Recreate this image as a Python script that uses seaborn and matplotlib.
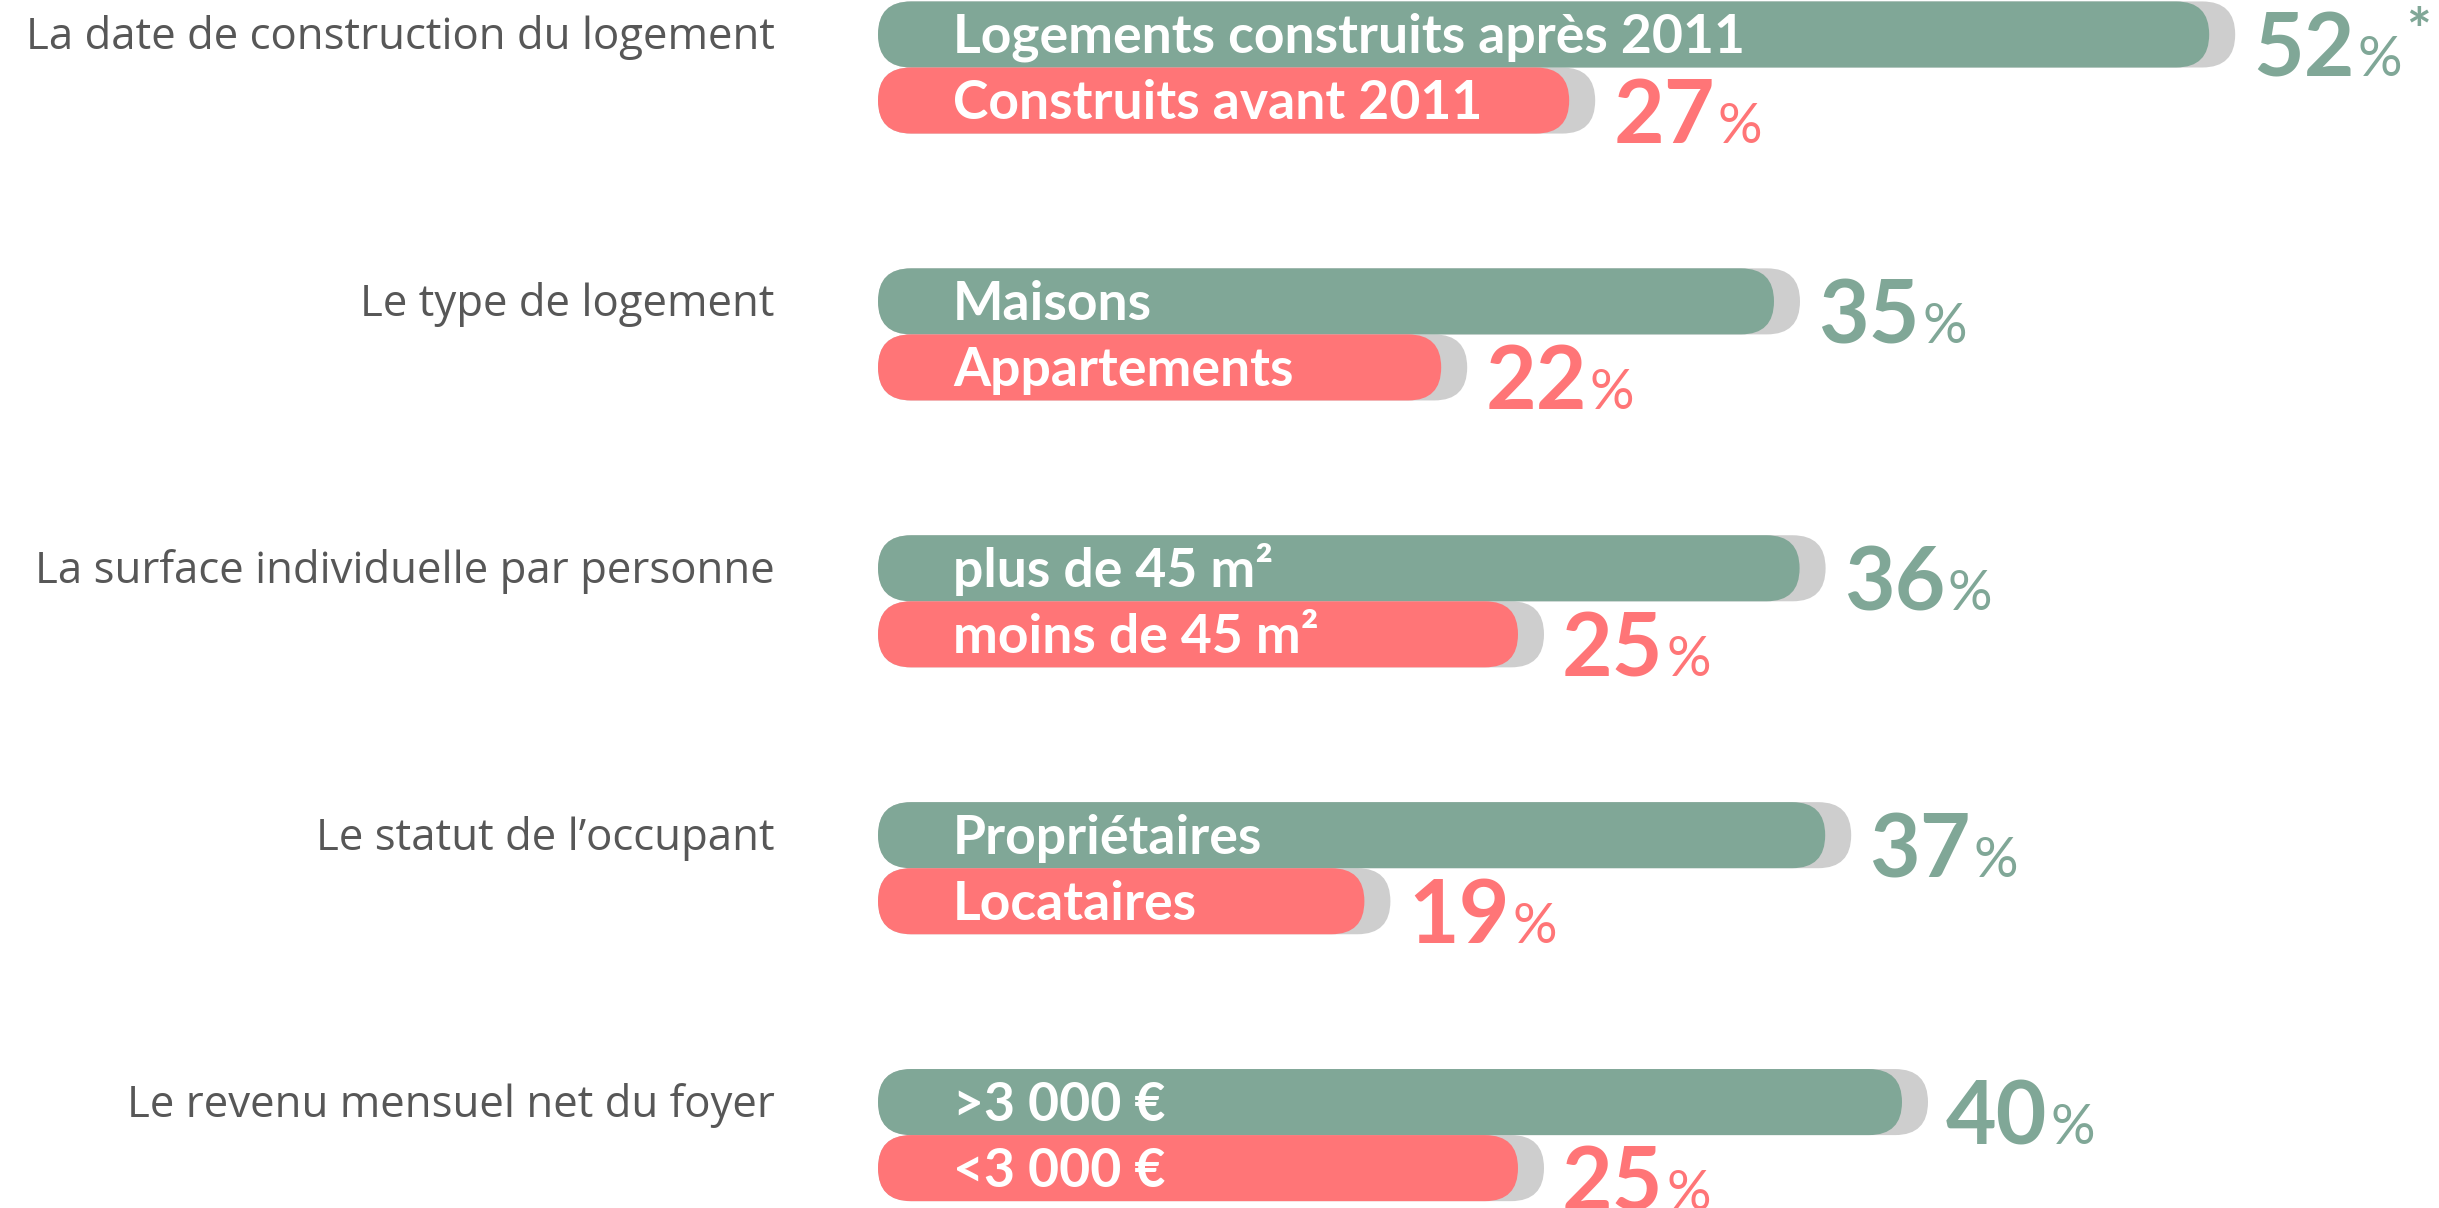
import numpy as np
import pandas as pd
import matplotlib
matplotlib.use("Agg")
import matplotlib.pyplot as plt
from matplotlib.patches import FancyBboxPatch, BoxStyle
import seaborn as sns

# ---------------- data ----------------
questions = [
    "La date de construction du logement",
    "Le type de logement",
    "La surface individuelle par personne",
    "Le statut de l’occupant",
    "Le revenu mensuel net du foyer",
]
top_labels = ["Logements construits après 2011", "Maisons", "plus de 45 m²",
              "Propriétaires", ">3 000 €"]
bottom_labels = ["Construits avant 2011", "Appartements", "moins de 45 m²",
                 "Locataires", "<3 000 €"]
top_values = [52, 35, 36, 37, 40]
bottom_values = [27, 22, 25, 19, 25]
top_notes = ["*", "", "", "", ""]

GREEN = "#80A797"
RED = "#FF7577"
SHADOW = "#CECECE"
GREY_TEXT = "#575757"

# ---------------- figure ----------------
sns.set_style("white")
plt.rcParams['font.family'] = ['Lato', 'DejaVu Sans']

W, H, DPI = 2439, 1208, 100
fig = plt.figure(figsize=(W / DPI, H / DPI), dpi=DPI)
fig.patch.set_facecolor("white")

X0_PX = 878.0        # pixel position of value 0
PX_PER_PCT = 25.6    # pixels per percent
TOP_CENTER = 67.5    # pixel y of first group centre
GROUP_PX = 266.9     # pixels between group centres

ax = fig.add_axes([X0_PX / W, 0, 1 - X0_PX / W, 1])


def dx(px):
    return px / PX_PER_PCT


def dy(px):
    return px / GROUP_PX


rows = []
for q, tl, bl, tv, bv in zip(questions, top_labels, bottom_labels, top_values, bottom_values):
    rows.append({"question": q, "serie": "haut", "label": tl, "value": tv})
    rows.append({"question": q, "serie": "bas", "label": bl, "value": bv})
df = pd.DataFrame(rows)

sns.barplot(data=df, x="value", y="question", hue="serie", orient="h",
            hue_order=["haut", "bas"], palette=[GREEN, RED], saturation=1,
            width=0.495, gap=0, dodge=True, errorbar=None, legend=False, ax=ax)

ax.set_xlim(0, (W - X0_PX) / PX_PER_PCT)
ax.set_ylim((H - TOP_CENTER) / GROUP_PX, -TOP_CENTER / GROUP_PX)
ax.axis("off")

rects = sorted([p for p in ax.patches], key=lambda p: p.get_y() + p.get_height() / 2)

r_x = dx(33)
shadow_w = dx(26)
for k, rect in enumerate(rects):
    i, is_top = k // 2, (k % 2 == 0)
    x, y, w, h = rect.get_x(), rect.get_y(), rect.get_width(), rect.get_height()
    color = rect.get_facecolor()
    rect.set_visible(False)
    aspect = (abs(h) / 2) / r_x
    style = BoxStyle("Round", pad=0, rounding_size=r_x)
    ax.add_patch(FancyBboxPatch((x, y), w + shadow_w, h, boxstyle=style,
                                mutation_aspect=aspect, fc=SHADOW, ec="none", zorder=1))
    ax.add_patch(FancyBboxPatch((x, y), w, h, boxstyle=style,
                                mutation_aspect=aspect, fc=color, ec="none", zorder=2))
    yc = y + h / 2
    label = top_labels[i] if is_top else bottom_labels[i]
    value = top_values[i] if is_top else bottom_values[i]
    tcol = GREEN if is_top else RED

    ax.text(dx(75), yc + dy(18.5), label, color="white", fontsize=38.5,
            fontweight="bold", ha="left", va="baseline", zorder=3)

    base = yc + dy(42)
    num = ax.text(w + shadow_w + dx(18), base, f"{value}", color=tcol,
                  fontsize=63, fontweight="bold", ha="left", va="baseline", zorder=3)
    pct = ax.annotate("%", xy=(1, base), xycoords=(num, "data"), xytext=(2, 0),
                      textcoords="offset points", fontsize=40, fontweight="normal",
                      color=tcol, ha="left", va="baseline", zorder=3)
    if is_top:
        ax.text(-dx(X0_PX - 775), yc + dy(15), questions[i], color=GREY_TEXT,
                fontsize=31.5, family=["Open Sans", "DejaVu Sans"],
                ha="right", va="baseline")
        if top_notes[i]:
            ax.annotate(top_notes[i], xy=(1, yc + dy(16)), xycoords=(pct, "data"),
                        xytext=(3, 0), textcoords="offset points", fontsize=42,
                        fontweight="bold", color=GREEN, ha="left", va="baseline")

fig.savefig("out.png", dpi=DPI, facecolor="white")
